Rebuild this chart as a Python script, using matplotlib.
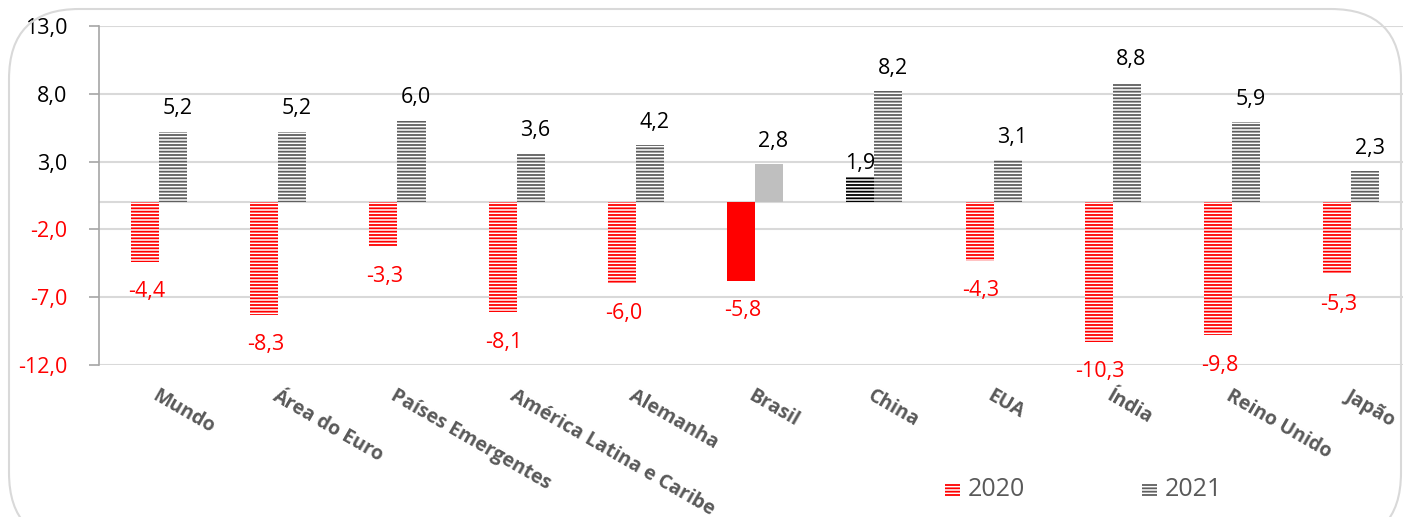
import matplotlib
matplotlib.use("Agg")
import matplotlib.pyplot as plt
from matplotlib.patches import FancyBboxPatch, Rectangle
import numpy as np

categories = ["Mundo", "Área do Euro", "Países Emergentes", "América Latina e Caribe",
              "Alemanha", "Brasil", "China", "EUA", "Índia", "Reino Unido", "Japão"]
values_2020 = [-4.4, -8.3, -3.3, -8.1, -6.0, -5.8, 1.9, -4.3, -10.3, -9.8, -5.3]
values_2021 = [5.2, 5.2, 6.0, 3.6, 4.2, 2.8, 8.2, 3.1, 8.8, 5.9, 2.3]
series_labels = ["2020", "2021"]
y_ticks = [-12.0, -7.0, -2.0, 3.0, 8.0, 13.0]

RED = "#FF0000"
DGRAY = "#5f5f5f"
TXT_GRAY = "#595959"
GRID = "#d9d9d9"

plt.rcParams["font.family"] = ["Open Sans", "DejaVu Sans"]
plt.rcParams["hatch.linewidth"] = 1.3

W, H = 1403, 517
fig = plt.figure(figsize=(W / 100, H / 100), dpi=100)
fig.patch.set_facecolor("white")

# rounded frame
frame = FancyBboxPatch((9 / W, -0.05), 1392 / W, 1.05 - 9 / H,
                       boxstyle="round,pad=0,rounding_size=0.05",
                       transform=fig.transFigure, facecolor="none",
                       edgecolor=GRID, linewidth=1.5, mutation_aspect=W / H)
fig.patches.append(frame)

left = 99.4 / W
right = 1411 / W
bottom = (H - 365) / H
top = (H - 26) / H
ax = fig.add_axes([left, bottom, right - left, top - bottom])

x = np.arange(len(categories))
bw = 0.235
fs_val = 15.5

for i, (v0, v1) in enumerate(zip(values_2020, values_2021)):
    cat = categories[i]
    if cat == "Brasil":
        ax.bar(x[i] - bw / 2, v0, bw, color=RED, linewidth=0, zorder=3)
        ax.bar(x[i] + bw / 2, v1, bw, color="#bfbfbf", linewidth=0, zorder=3)
    else:
        c0 = "black" if cat == "China" else RED
        ax.bar(x[i] - bw / 2, v0, bw, facecolor="white", edgecolor=c0,
               hatch="-----", linewidth=0, zorder=3)
        ax.bar(x[i] + bw / 2, v1, bw, facecolor="white", edgecolor=DGRAY,
               hatch="-----", linewidth=0, zorder=3)

    lab0 = f"{v0:.1f}".replace(".", ",")
    lab1 = f"{v1:.1f}".replace(".", ",")
    if v0 < 0:
        ax.annotate(lab0, (x[i] - bw / 2, v0), xytext=(1, -14), textcoords="offset points",
                    ha="center", va="top", color=RED, fontsize=fs_val)
    else:
        ax.annotate(lab0, (x[i] - bw / 2, v0), xytext=(0, 2), textcoords="offset points",
                    ha="center", va="bottom", color="black", fontsize=fs_val)
    ax.annotate(lab1, (x[i] + bw / 2, v1), xytext=(3, 9), textcoords="offset points",
                ha="center", va="bottom", color="black", fontsize=fs_val)

ax.set_xlim(-0.5, len(categories) - 0.5)
ax.set_ylim(-12, 13)
ax.set_yticks(y_ticks)
ax.set_yticklabels([f"{t:.1f}".replace(".", ",") for t in y_ticks], fontsize=15.5)
for t, lab in zip(y_ticks, ax.get_yticklabels()):
    lab.set_color(RED if t < 0 else "black")
ax.yaxis.grid(True, color=GRID, linewidth=1.5, zorder=0)
ax.set_axisbelow(True)
ax.axhline(0, color=GRID, linewidth=1.5, zorder=1)

ax.set_xticks(x)
ax.set_xticklabels(categories, rotation=-30, ha="left", va="top",
                   rotation_mode="anchor", fontsize=14, fontweight="bold", color=TXT_GRAY)
ax.tick_params(axis="x", length=0, pad=15)
ax.tick_params(axis="y", length=7, color="#a6a6a6", width=1.2, pad=16)

for s in ["top", "right", "bottom"]:
    ax.spines[s].set_visible(False)
ax.spines["left"].set_color("#a6a6a6")
ax.spines["left"].set_linewidth(1.2)

# legend (manual placement)
leg_y = (H - 497) / H
for px, col, lab in [(945, RED, series_labels[0]), (1142, DGRAY, series_labels[1])]:
    fig.add_artist(Rectangle((px / W, leg_y), 15 / W, 14 / H, transform=fig.transFigure,
                             facecolor="white", edgecolor=col, hatch="-----", linewidth=0))
    fig.text((px + 23) / W, leg_y + 7 / H, lab, ha="left", va="center",
             fontsize=18, color=TXT_GRAY)

fig.savefig("out.png", dpi=100, facecolor="white")
